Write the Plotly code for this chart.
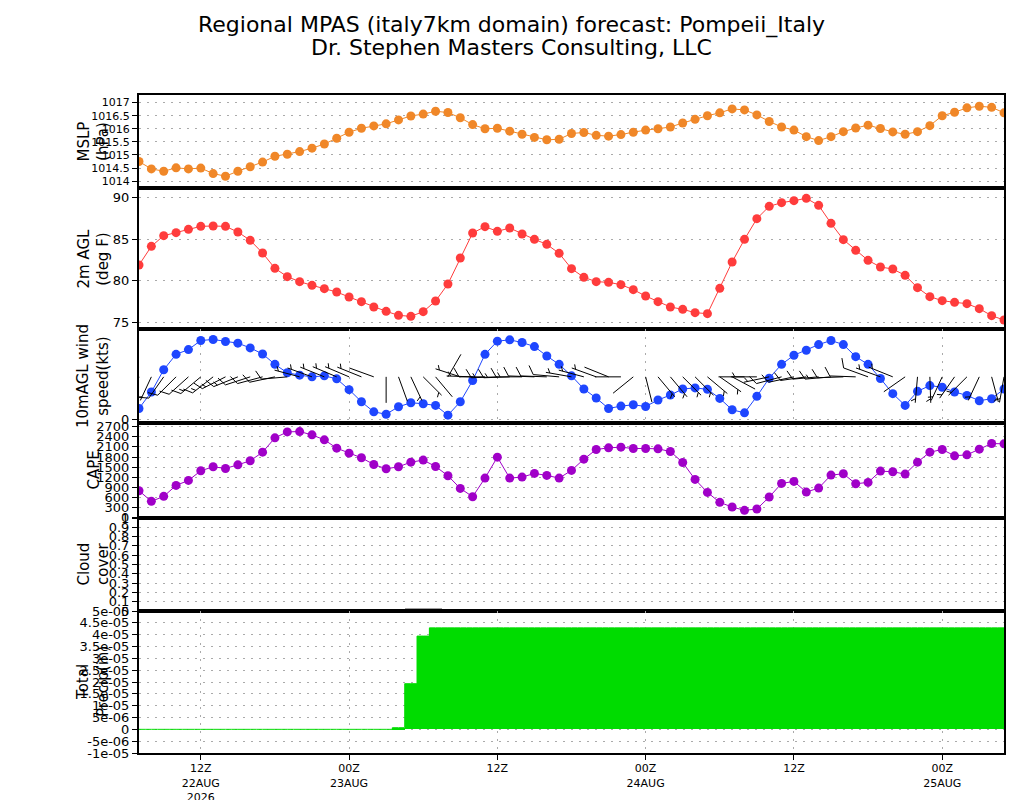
import math
import pandas as pd
import plotly.graph_objects as go

# hourly forecast, 07Z 22AUG 2026 .. 05Z 25AUG 2026
start = pd.Timestamp("2026-08-22 07:00")
times = pd.date_range(start, periods=71, freq="h")

mslp = [1014.75, 1014.47, 1014.38, 1014.51, 1014.47, 1014.50, 1014.29, 1014.19, 1014.38, 1014.55,
        1014.73, 1014.95, 1015.03, 1015.13, 1015.26, 1015.42, 1015.64, 1015.87, 1016.02, 1016.11,
        1016.19, 1016.34, 1016.49, 1016.56, 1016.67, 1016.62, 1016.42, 1016.16, 1016.00, 1016.02,
        1015.91, 1015.79, 1015.67, 1015.58, 1015.60, 1015.82, 1015.86, 1015.75, 1015.72, 1015.78,
        1015.87, 1015.95, 1016.00, 1016.07, 1016.22, 1016.36, 1016.50, 1016.61, 1016.76, 1016.72,
        1016.53, 1016.28, 1016.07, 1015.95, 1015.70, 1015.55, 1015.70, 1015.89, 1016.03, 1016.14,
        1016.01, 1015.88, 1015.79, 1015.89, 1016.12, 1016.50, 1016.63, 1016.80, 1016.86, 1016.82,
        1016.61]

temp_f = [81.88, 84.12, 85.40, 85.76, 86.16, 86.52, 86.56, 86.52, 85.84, 84.84,
          83.32, 81.48, 80.48, 79.88, 79.44, 79.04, 78.64, 78.04, 77.48, 76.84,
          76.32, 75.84, 75.72, 76.28, 77.56, 79.60, 82.72, 85.72, 86.48, 85.92,
          86.32, 85.60, 84.96, 84.36, 83.28, 81.44, 80.40, 79.88, 79.80, 79.52,
          78.92, 78.16, 77.48, 76.84, 76.56, 76.16, 76.04, 79.08, 82.24, 84.96,
          87.44, 88.92, 89.36, 89.60, 89.88, 89.04, 86.88, 84.92, 83.64, 82.44,
          81.64, 81.40, 80.64, 79.16, 78.08, 77.60, 77.40, 77.24, 76.64, 75.80,
          75.28]

wind_kts = [1.78, 4.50, 8.17, 10.72, 11.50, 13.00, 13.17, 12.83, 12.56, 11.78,
            10.78, 9.06, 7.67, 7.28, 7.00, 7.17, 6.67, 4.89, 2.89, 1.22,
            0.83, 2.06, 2.72, 2.56, 2.28, 0.67, 2.89, 6.39, 10.72, 12.89,
            13.11, 12.67, 12.00, 10.44, 9.06, 7.17, 5.00, 3.50, 1.78, 2.17,
            2.39, 2.11, 3.17, 4.00, 5.00, 5.17, 4.94, 3.44, 1.56, 1.06,
            3.78, 6.78, 9.06, 10.56, 11.39, 12.33, 13.00, 12.33, 10.33, 9.06,
            6.72, 4.22, 2.28, 4.61, 5.56, 5.28, 4.50, 3.94, 3.06, 3.39,
            5.00]

wind_dir = [200, 205, 215, 225, 228, 230, 232, 243, 248, 252,
            255, 258, 265, 285, 290, 292, 293, 293, 292, 290,
            180, 160, 155, 135, 140, 30, 288, 272, 270, 268,
            268, 270, 272, 272, 275, 280, 285, 290, 292, 270,
            231, 166, 140, 140, 135, 135, 130, 125, 118, 270,
            270, 258, 255, 258, 262, 265, 265, 268, 272, 290,
            290, 292, 235, 185, 178, 205, 215, 225, 205, 165,
            190]

cape = [800, 484, 632, 957, 1105, 1392, 1510, 1461, 1569, 1688,
        1944, 2369, 2546, 2556, 2458, 2310, 2063, 1915, 1777, 1579,
        1451, 1510, 1648, 1708, 1520, 1244, 869, 622, 1175, 1796,
        1175, 1204, 1313, 1254, 1175, 1402, 1737, 2023, 2073, 2092,
        2053, 2053, 2043, 1964, 1638, 1135, 750, 454, 316, 217,
        257, 612, 1017, 1076, 760, 878, 1263, 1303, 1007, 1046,
        1382, 1362, 1293, 1648, 1944, 2023, 1836, 1865, 2033, 2201,
        2191]

cloud = [0, 0, 0, 0, 0, 0, 0, 0, 0, 0,
         0, 0, 0, 0, 0, 0, 0, 0, 0, 0,
         0, 0, 0.035, 0.035, 0.035, 0, 0, 0, 0, 0,
         0, 0, 0, 0, 0, 0, 0, 0, 0, 0,
         0, 0, 0, 0, 0, 0, 0, 0, 0, 0,
         0, 0, 0, 0, 0, 0, 0, 0, 0, 0,
         0, 0, 0, 0, 0, 0, 0, 0, 0, 0,
         0]

precip = [0, 0, 0, 0, 0, 0, 0, 0, 0, 0,
          0, 0, 0, 0, 0, 0, 0, 0, 0, 0,
          0, 7e-07, 1.93e-05, 3.94e-05, 4.29e-05, 4.29e-05, 4.29e-05, 4.29e-05, 4.29e-05, 4.29e-05,
          4.29e-05, 4.29e-05, 4.29e-05, 4.29e-05, 4.29e-05, 4.29e-05, 4.29e-05, 4.29e-05, 4.29e-05, 4.29e-05,
          4.29e-05, 4.29e-05, 4.29e-05, 4.29e-05, 4.29e-05, 4.29e-05, 4.29e-05, 4.29e-05, 4.29e-05, 4.29e-05,
          4.29e-05, 4.29e-05, 4.29e-05, 4.29e-05, 4.29e-05, 4.29e-05, 4.29e-05, 4.29e-05, 4.29e-05, 4.29e-05,
          4.29e-05, 4.29e-05, 4.29e-05, 4.29e-05, 4.29e-05, 4.29e-05, 4.29e-05, 4.29e-05, 4.29e-05, 4.29e-05,
          4.29e-05]

xtick_times = ["2026-08-22 12:00", "2026-08-23 00:00", "2026-08-23 12:00",
               "2026-08-24 00:00", "2026-08-24 12:00", "2026-08-25 00:00"]
xtick_labels = ["12Z<br>22AUG<br>2026", "00Z<br>23AUG", "12Z",
                "00Z<br>24AUG", "12Z", "00Z<br>25AUG"]

mslp_ticks = [1014, 1014.5, 1015, 1015.5, 1016, 1016.5, 1017]
mslp_labels = ["1014", "1014.5", "1015", "1015.5", "1016", "1016.5", "1017"]
cape_ticks = [0, 300, 600, 900, 1200, 1500, 1800, 2100, 2400, 2700]
cloud_ticks = [0, 0.1, 0.2, 0.3, 0.4, 0.5, 0.6, 0.7, 0.8, 0.9, 1]
precip_ticks = [-1e-05, -5e-06, 0, 5e-06, 1e-05, 1.5e-05, 2e-05, 2.5e-05,
                3e-05, 3.5e-05, 4e-05, 4.5e-05, 5e-05]
precip_labels = ["-1e-05", "-5e-06", "0", "5e-06", "1e-05", "1.5e-05", "2e-05", "2.5e-05",
                 "3e-05", "3.5e-05", "4e-05", "4.5e-05", "5e-05"]

# the page body adds an 8px margin, so the figure is 8px smaller and positions shift by 8
OFF = 8
W, H = 1024 - OFF, 800 - OFF
FONT = "DejaVu Sans"
x_left, x_right = 139, 1004
# panel pixel bounds (top, bottom) in window pixels
panels = [(95, 188), (188, 329), (329, 423), (423, 518), (518, 611), (611, 753)]


def fx(px):
    return (px - OFF) / W


def fy(py):
    return 1 - (py - OFF) / H


x_dom = [fx(x_left), fx(x_right)]

orange = "rgb(240,135,40)"
red = "rgb(255,60,60)"
blue = "rgb(30,70,255)"
purple = "rgb(160,0,200)"
green = "rgb(0,220,0)"

x_range = [times[0], times[-1]]
wind_range = [-0.62, 14.9]

fig = go.Figure()


def dots(y, color, n):
    return go.Scatter(x=times, y=y, mode="lines+markers",
                      line=dict(color=color, width=1),
                      marker=dict(color=color, size=9),
                      xaxis="x" + str(n), yaxis="y" + str(n),
                      hoverinfo="x+y")


fig.add_trace(dots(mslp, orange, 1))
fig.add_trace(dots(temp_f, red, 2))
fig.add_trace(dots(wind_kts, blue, 3))
fig.add_trace(dots(cape, purple, 4))

# wind barbs drawn at a fixed level in the wind panel
px_per_hour = (x_right - x_left) / ((times[-1] - times[0]).total_seconds() / 3600)
wind_top, wind_bot = panels[2]
px_per_kt = (wind_bot - wind_top) / (wind_range[1] - wind_range[0])
barb_level = 7.0
staff_len = 26
bx, by = [], []


def to_xy(h, dx, dy):
    t = start + pd.to_timedelta(h + dx / px_per_hour, unit="h")
    return t.strftime("%Y-%m-%d %H:%M:%S.%f"), barb_level + dy / px_per_kt


for i, (d, s) in enumerate(zip(wind_dir, wind_kts)):
    ux, uy = math.sin(math.radians(d)), math.cos(math.radians(d))
    px_, py_ = uy, -ux
    fdx, fdy = px_ * 0.87 + ux * 0.5, py_ * 0.87 + uy * 0.5
    segs = [((0, 0), (staff_len * ux, staff_len * uy))]
    n5 = int(round(s / 5.0))
    full, half = n5 // 2, n5 % 2
    pos = staff_len
    for k in range(full):
        bxy = (pos * ux, pos * uy)
        segs.append((bxy, (bxy[0] + 10 * fdx, bxy[1] + 10 * fdy)))
        pos -= 4
    if half:
        if full == 0:
            pos -= 4
        bxy = (pos * ux, pos * uy)
        segs.append((bxy, (bxy[0] + 5 * fdx, bxy[1] + 5 * fdy)))
    for a, b in segs:
        x0, y0 = to_xy(i, a[0], a[1])
        x1, y1 = to_xy(i, b[0], b[1])
        bx += [x0, x1, None]
        by += [y0, y1, None]

fig.add_trace(go.Scatter(x=bx, y=by, mode="lines", line=dict(color="black", width=1),
                         xaxis="x3", yaxis="y3", hoverinfo="skip"))

fig.add_trace(go.Bar(x=times, y=cloud, width=3600000, marker=dict(color="rgb(160,160,160)", line_width=0),
                     xaxis="x5", yaxis="y5"))
fig.add_trace(go.Bar(x=times, y=precip, width=3600000, marker=dict(color=green, line_width=0),
                     xaxis="x6", yaxis="y6"))
fig.add_trace(go.Scatter(x=times, y=precip, mode="lines", line=dict(color=green, width=1, shape="hvh"),
                         xaxis="x6", yaxis="y6", hoverinfo="skip"))

grid = dict(showgrid=True, gridcolor="rgb(170,170,170)", gridwidth=1, griddash="2px,6px")
frame = dict(showline=True, linecolor="black", linewidth=2, mirror=True, zeroline=False,
             automargin=False)
yticks = dict(ticks="outside", ticklen=5, tickcolor="black", tickwidth=1,
              tickfont=dict(family=FONT, size=13, color="black"))

y_specs = [
    dict(range=[1013.74, 1017.29], tickvals=mslp_ticks, ticktext=mslp_labels,
         tickfont=dict(family=FONT, size=11, color="black")),
    dict(range=[74.2, 91.12], dtick=5),
    dict(range=wind_range, tickvals=[0], showgrid=True),
    dict(range=[-10, 2810], tickvals=cape_ticks),
    dict(range=[0, 1], tickvals=cloud_ticks),
    dict(range=[-1e-05, 5e-05], tickvals=precip_ticks, ticktext=precip_labels),
]
y_titles = ["MSLP<br>(hPa)", "2m AGL<br>(deg F)", "10mAGL wind<br>speed(kts)",
            "CAPE", "Cloud<br>cover", "Total<br>Precip(in)"]

layout = dict(width=W, height=H, autosize=False,
              margin=dict(l=0, r=0, t=0, b=0, pad=0, autoexpand=False),
              paper_bgcolor="white", plot_bgcolor="white", showlegend=False,
              bargap=0, barmode="overlay",
              font=dict(family=FONT, color="black"))
annotations = []
for n, ((top, bot), spec, ttl) in enumerate(zip(panels, y_specs, y_titles), start=1):
    dom = [fy(bot), fy(top)]
    xa = dict(domain=x_dom, anchor="y" + str(n), range=x_range, type="date",
              tickvals=xtick_times, showticklabels=False, ticks="", **frame)
    if n > 1:
        xa["matches"] = "x"
    if n in (3, 6):
        xa.update(grid)
    else:
        xa["showgrid"] = False
    if n == 6:
        xa.update(showticklabels=True, ticktext=xtick_labels, ticks="outside", ticklen=5,
                  ticklabelstandoff=-1,
                  tickcolor="black", tickfont=dict(family=FONT, size=11, color="black"))
    ya = dict(domain=dom, anchor="x" + str(n), **frame, **grid)
    ya.update(yticks)
    ya.update(spec)
    layout["xaxis" + str(n)] = xa
    layout["yaxis" + str(n)] = ya
    annotations.append(dict(text=ttl, textangle=-90, xref="paper", yref="paper",
                            x=fx(93), y=fy((top + bot) / 2), showarrow=False,
                            font=dict(family=FONT, size=15, color="black"),
                            xanchor="center", yanchor="middle"))

title_lines = ["Regional MPAS (italy7km domain) forecast: Pompeii_Italy",
               "Dr. Stephen Masters Consulting, LLC"]
for line, ty in zip(title_lines, [25, 48]):
    annotations.append(dict(text=line, xref="paper", yref="paper", x=fx(511), y=fy(ty),
                            showarrow=False, xanchor="center", yanchor="middle",
                            font=dict(family=FONT, size=22, color="black")))
layout["annotations"] = annotations

fig.update_layout(**layout)
fig.write_html("out.html")
